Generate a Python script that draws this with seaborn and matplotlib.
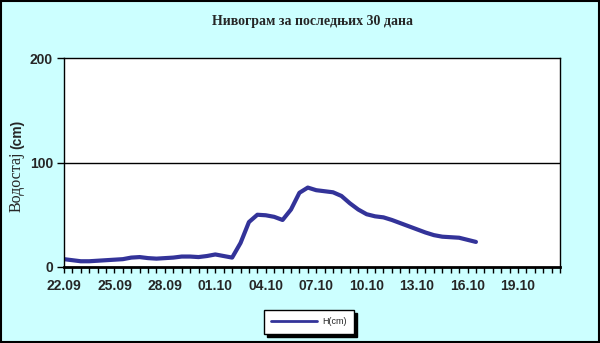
import matplotlib
matplotlib.use("Agg")
import matplotlib.pyplot as plt
import seaborn as sns
import pandas as pd
import numpy as np

title = "Нивограм за последњих 30 дана"
ylabel_word = "Водостај"
ylabel_unit = "(cm)"
series_name = "H(cm)"

# 60 half-day categories: 22.09 .. 21.10, two readings per day
days = ["22.09", "23.09", "24.09", "25.09", "26.09", "27.09", "28.09", "29.09", "30.09",
        "01.10", "02.10", "03.10", "04.10", "05.10", "06.10", "07.10", "08.10", "09.10",
        "10.10", "11.10", "12.10", "13.10", "14.10", "15.10", "16.10", "17.10", "18.10",
        "19.10", "20.10", "21.10"]
categories = [d for d in days for _ in range(2)]

# water level (cm)
levels = [7.5, 6.5, 5.5, 5.5, 6, 6.5, 7, 7.5, 9, 9.5,
          8.5, 8, 8.5, 9, 10, 10, 9.5, 10.5, 12, 10.5,
          9, 23, 43, 50, 49.5, 48, 45, 55, 71, 76,
          73.5, 72.5, 71.5, 68, 61, 55, 50.5, 48.5, 47.5, 45,
          42, 39, 36, 33, 30.5, 29, 28.5, 28, 26, 24]

y_ticks = [0, 100, 200]

bg = "#CCFFFF"
line_color = "#333399"

sns.set_theme(style="white")
plt.rcParams['font.family'] = ['Liberation Sans', 'DejaVu Sans']

fig = plt.figure(figsize=(6.0, 3.43), dpi=100, facecolor=bg)
ax = fig.add_axes([64/600, 1-267/343, (560-64)/600, (267-58)/343])
ax.set_facecolor("white")

df = pd.DataFrame({"idx": np.arange(len(levels)), "level": levels})
sns.lineplot(data=df, x="idx", y="level", ax=ax, color=line_color, linewidth=3.0,
             label=series_name, legend=False)
for l in ax.get_lines():
    l.set_solid_joinstyle("round")
    l.set_solid_capstyle("round")

ax.set_xlim(0, len(categories) - 1)
ax.set_ylim(0, 200)
ax.set_yticks(y_ticks)
ax.set_yticklabels([str(v) for v in y_ticks], fontweight="bold", fontsize=10)
ax.set_xticks(np.arange(len(categories)))
ax.set_xticklabels([c if i % 6 == 0 else "" for i, c in enumerate(categories)],
                   fontweight="bold", fontsize=10)
ax.tick_params(axis="x", direction="out", length=4, width=1, color="black", pad=5,
               bottom=True)
ax.tick_params(axis="y", direction="out", length=5, width=1, color="black", pad=3, left=True)
ax.axhline(100, color="black", linewidth=1)
ax.set_xlabel("")
ax.set_ylabel("")
for s in ["left", "right", "top"]:
    ax.spines[s].set_color("black")
    ax.spines[s].set_linewidth(1)
ax.spines["bottom"].set_color("black")
ax.spines["bottom"].set_linewidth(2)
ax.grid(False)

fig.text(313/600, 1-22/343, title, ha="center", va="center", fontsize=10,
         fontweight="bold", family=["Liberation Serif"])
fig.text(17/600, 1-182/343, ylabel_word, ha="center", va="center", rotation=90,
         fontsize=11.5, family=["Liberation Serif"])
fig.text(17/600, 1-134/343, ylabel_unit, ha="center", va="center", rotation=90,
         fontsize=10, fontweight="bold")

handles, labels_ = ax.get_legend_handles_labels()
leg = fig.legend(handles, labels_, loc="center", bbox_to_anchor=(309/600, 1-322/343),
                 frameon=True, fancybox=False, shadow={"color": "black", "alpha": 1},
                 fontsize=6.5, handlelength=5, borderpad=0.8, handletextpad=0.6)
leg.get_frame().set_edgecolor("black")
leg.get_frame().set_linewidth(1)
leg.get_frame().set_facecolor("white")
for h in leg.legend_handles:
    h.set_linewidth(2)

border = plt.Rectangle((0.001, 0.002), 0.997, 0.995, transform=fig.transFigure,
                       fill=False, edgecolor="black", linewidth=1.5)
fig.patches.append(border)

fig.savefig("out.png", dpi=100, facecolor=bg)
